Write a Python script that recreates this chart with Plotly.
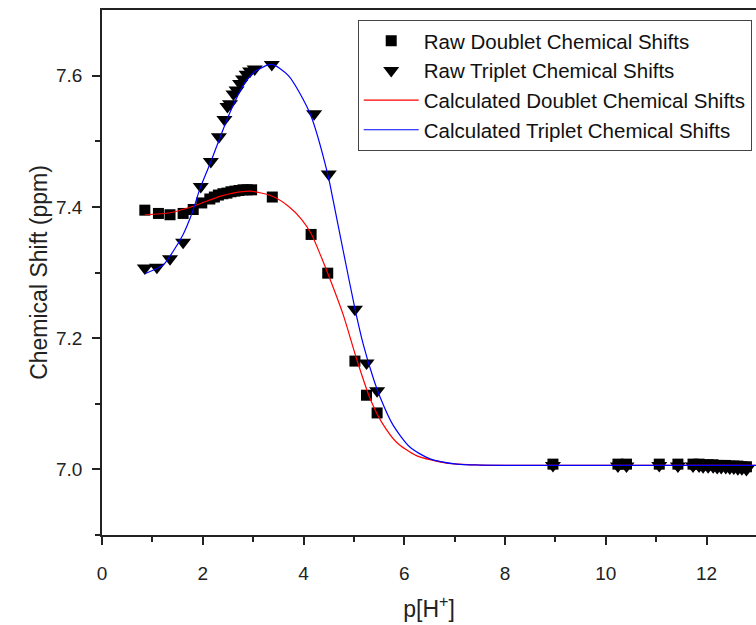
import plotly.graph_objects as go

# Raw doublet chemical shifts
doublet_x = [0.85, 1.12, 1.35, 1.61, 1.81, 1.98, 2.14, 2.23, 2.31, 2.40, 2.48, 2.56, 2.64,
             2.72, 2.80, 2.88, 2.97, 3.38, 4.15, 4.48, 5.02, 5.25, 5.46,
             8.95, 10.24, 10.41, 11.06, 11.43, 11.73, 11.85, 11.93, 12.03, 12.13, 12.21,
             12.29, 12.38, 12.46, 12.54, 12.62, 12.70, 12.79]
doublet_y = [7.395, 7.390, 7.388, 7.390, 7.396, 7.406, 7.412, 7.415, 7.418, 7.420, 7.421,
             7.423, 7.424, 7.425, 7.426, 7.426, 7.426, 7.415, 7.358, 7.299, 7.165, 7.113, 7.086,
             7.008, 7.008, 7.008, 7.008, 7.008, 7.008, 7.008, 7.007, 7.007, 7.007, 7.006,
             7.006, 7.006, 7.005, 7.005, 7.005, 7.004, 7.004]

# Raw triplet chemical shifts
triplet_x = [0.85, 1.09, 1.35, 1.61, 1.96, 2.16, 2.32, 2.43, 2.49, 2.54, 2.61, 2.67, 2.74,
             2.80, 2.87, 2.94, 3.03, 3.37, 4.21, 4.50, 5.02, 5.25, 5.46,
             8.95, 10.24, 10.41, 11.06, 11.43, 11.73, 11.85, 11.93, 12.03, 12.13, 12.21,
             12.29, 12.38, 12.46, 12.54, 12.62, 12.70, 12.79]
triplet_y = [7.307, 7.308, 7.321, 7.346, 7.431, 7.469, 7.507, 7.533, 7.553, 7.557, 7.572,
             7.578, 7.588, 7.595, 7.602, 7.607, 7.610, 7.617, 7.542, 7.450, 7.244, 7.162, 7.120,
             7.006, 7.005, 7.005, 7.006, 7.005, 7.005, 7.005, 7.004, 7.004, 7.004, 7.003,
             7.003, 7.003, 7.002, 7.002, 7.001, 7.001, 7.000]

# Calculated doublet curve
calc_d_x = [0.85, 1.35, 1.81, 2.34, 2.60, 2.94, 3.37, 3.70, 3.96, 4.16, 4.36, 4.54, 4.79,
            5.05, 5.32, 5.55, 5.85, 6.24, 6.84, 7.50, 8.50, 10.0, 13.0]
calc_d_y = [7.388, 7.391, 7.401, 7.416, 7.421, 7.424, 7.4165, 7.401, 7.381, 7.358, 7.322,
            7.287, 7.235, 7.169, 7.108, 7.072, 7.041, 7.021, 7.0096, 7.0066, 7.006, 7.006, 7.006]

# Calculated triplet curve
calc_t_x = [0.85, 1.22, 1.41, 1.61, 1.75, 1.85, 1.94, 2.14, 2.54, 2.87, 3.05, 3.37, 3.70,
            4.13, 4.48, 4.59, 4.79, 5.02, 5.18, 5.38, 5.52, 5.78, 6.11, 6.51, 7.04, 7.50,
            8.50, 10.0, 13.0]
calc_t_y = [7.298, 7.312, 7.332, 7.358, 7.383, 7.405, 7.427, 7.465, 7.544, 7.593, 7.607,
            7.617, 7.600, 7.542, 7.450, 7.409, 7.332, 7.245, 7.192, 7.140, 7.110, 7.067,
            7.034, 7.016, 7.008, 7.0066, 7.006, 7.006, 7.006]

x_ticks = [0, 2, 4, 6, 8, 10, 12]
x_minor = [1, 3, 5, 7, 9, 11]
y_ticks = [7.0, 7.2, 7.4, 7.6]
y_minor = [6.9, 7.1, 7.3, 7.5]

FONT = "Liberation Sans, Arial, sans-serif"

fig = go.Figure()
fig.add_trace(go.Scatter(x=doublet_x, y=doublet_y, mode="markers",
                         name="Raw Doublet Chemical Shifts",
                         marker=dict(symbol="square", size=11, color="black")))
fig.add_trace(go.Scatter(x=triplet_x, y=triplet_y, mode="markers",
                         name="Raw Triplet Chemical Shifts",
                         marker=dict(symbol="triangle-down", size=14, color="black")))
fig.add_trace(go.Scatter(x=calc_d_x, y=calc_d_y, mode="lines",
                         name="Calculated Doublet Chemical Shifts",
                         line=dict(color="red", width=1.2, shape="spline", smoothing=0.7)))
fig.add_trace(go.Scatter(x=calc_t_x, y=calc_t_y, mode="lines",
                         name="Calculated Triplet Chemical Shifts",
                         line=dict(color="blue", width=1.2, shape="spline", smoothing=0.7)))

axis_common = dict(showline=True, linecolor="#222", linewidth=1.5, ticks="outside",
                   tickcolor="#222", tickwidth=1.5, ticklen=8, showgrid=False, zeroline=False,
                   tickfont=dict(family=FONT, size=19, color="#222"),
                   automargin=False)

fig.update_xaxes(range=[0, 12.98], tickvals=x_ticks, mirror=True, ticklabelstandoff=12,
                 title=dict(text="p[H<sup>+</sup>]", font=dict(family=FONT, size=23, color="#222"),
                            standoff=18),
                 minor=dict(ticks="outside", ticklen=5, tickwidth=1.5, tickcolor="#222",
                            showgrid=False, tickvals=x_minor),
                 **axis_common)
fig.update_yaxes(range=[6.9, 7.7], tickvals=y_ticks, tickformat=".1f", ticklabelstandoff=6,
                 title=dict(text="Chemical Shift (ppm)", font=dict(family=FONT, size=23, color="#222"),
                            standoff=2),
                 minor=dict(ticks="outside", ticklen=5, tickwidth=1.5, tickcolor="#222",
                            showgrid=False, tickvals=y_minor),
                 **axis_common)

fig.update_layout(
    width=756, height=625,
    margin=dict(l=102, r=0, t=10, b=90, autoexpand=False),
    plot_bgcolor="white", paper_bgcolor="white",
    font=dict(family=FONT, color="#222"),
    legend=dict(x=0.391, y=0.981, xanchor="left", yanchor="top",
                bordercolor="#444", borderwidth=1, bgcolor="white",
                font=dict(family=FONT, size=20.5, color="#111"),
                itemwidth=55, tracegroupgap=0),
    showlegend=True,
)

fig.write_html("out.html")
